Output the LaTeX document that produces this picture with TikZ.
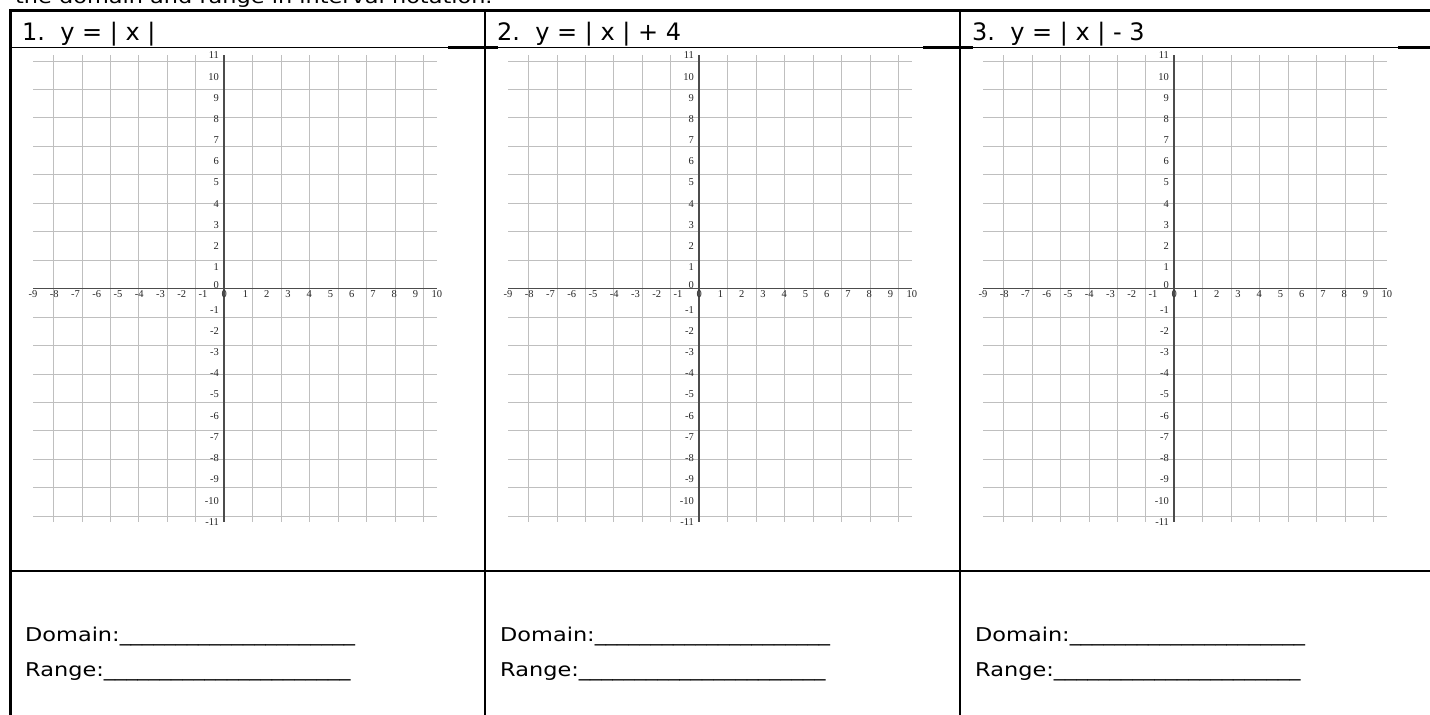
\documentclass[tikz,border=0pt]{standalone}
\usepackage{fontspec}
\newfontfamily\comicf[FakeStretch=1.18]{DejaVu Sans}
\newfontfamily\headf{DejaVu Sans}
\newfontfamily\labf{Liberation Serif}
\tikzset{
  tblline/.style={line width=2.5pt, black},
  thinline/.style={line width=1pt, black},
  gridline/.style={line width=0.9pt, black!25},
  axisline/.style={line width=1.7pt, black!70},
  lab/.style={inner sep=0.5pt, font=\labf\fontsize{10.5}{11}\selectfont, text=black!85},
  ylab/.style={lab, anchor=east},
  xlab/.style={lab, anchor=north},
  title/.style={anchor=base west, inner sep=0pt, font=\headf\fontsize{24}{28}\selectfont},
  answer/.style={anchor=base west, inner sep=0pt, font=\comicf\fontsize{19}{22}\selectfont},
}
\begin{document}
\begin{tikzpicture}[x=1pt,y=-1pt]
\fill[white] (0,0) rectangle (1430,715);
\useasboundingbox (0,0) rectangle (1430,715);
% cut-off instruction line
\node[answer] (intro) at (15,3) {the domain and range in interval notation.};
% table rules
\draw[tblline] (10,10.5) -- (1430,10.5);
\draw[tblline] (10.5,9.3) -- (10.5,715);
\draw[tblline] (485,9.3) -- (485,715);
\draw[tblline] (960,9.3) -- (960,715);
\draw[thinline] (10,47.5) -- (1430,47.5);
\draw[tblline] (448,47.5) -- (498,47.5);
\draw[tblline] (923,47.5) -- (973,47.5);
\draw[tblline] (1398,47.5) -- (1430,47.5);
\draw[tblline] (10,571) -- (1430,571);
% panels
\foreach \p/\eq in {0/{1.\ \ y = | x |}, 1/{2.\ \ y = | x | + 4}, 2/{3.\ \ y = | x | - 3}}{
  \pgfmathsetmacro\ox{224.3+475*\p}
  \pgfmathsetmacro\tx{22+475*\p}
  \pgfmathsetmacro\ax{25+475*\p}
  \node[title] (title\p) at (\tx,40) {\eq};
  \node[answer] (dom\p) at (\ax,641) {Domain:\_\_\_\_\_\_\_\_\_\_\_\_\_\_\_\_\_\_\_\_\_};
  \node[answer] (ran\p) at (\ax,676) {Range:\_\_\_\_\_\_\_\_\_\_\_\_\_\_\_\_\_\_\_\_\_\_};
  \begin{scope}[xshift=\ox pt, yshift=-288.6pt, x=21.25pt, y=21.2pt]
    \draw[gridline] (-9,-11) grid (10,11);
    \draw[axisline] (-9,0) -- (10,0);
    \draw[axisline] (0,-11) -- (0,11);
    \foreach \i in {-9,...,10}{
      \node[xlab] (xl-\p-\i) at (\i,-0.05) {\i};
    }
    \foreach \j in {-11,...,-1}{
      \node[ylab] (yl-\p-\j) at (-0.22,\j) {\j};
    }
    \foreach \j in {1,...,11}{
      \node[ylab] (yl-\p-\j) at (-0.22,\j) {\j};
    }
    \node[ylab] (yl-\p-0) at (-0.22,0.15) {0};
  \end{scope}
}
\end{tikzpicture}
\end{document}
